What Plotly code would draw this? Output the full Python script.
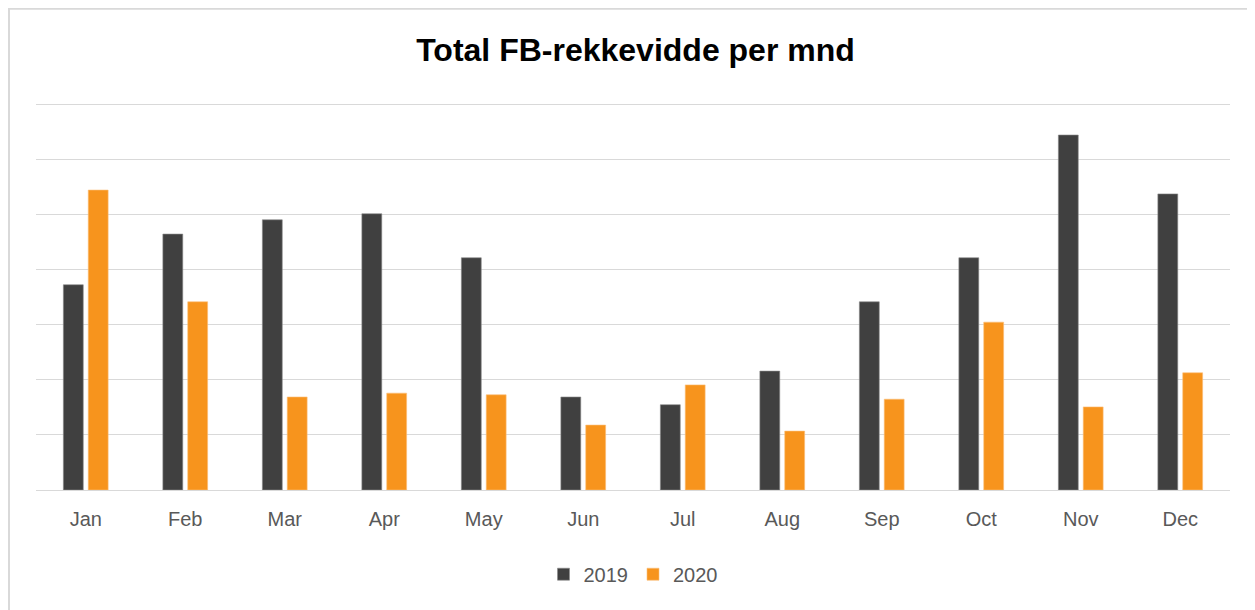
import plotly.graph_objects as go

months = ["Jan", "Feb", "Mar", "Apr", "May", "Jun", "Jul", "Aug", "Sep", "Oct", "Nov", "Dec"]
reach_2019 = [3.73, 4.65, 4.91, 5.02, 4.22, 1.69, 1.55, 2.16, 3.42, 4.22, 6.45, 5.38]
reach_2020 = [5.45, 3.42, 1.69, 1.76, 1.73, 1.18, 1.91, 1.07, 1.65, 3.05, 1.51, 2.13]

fig = go.Figure()

fig.add_trace(go.Bar(
    x=months, y=reach_2019, name="2019",
    marker=dict(color="#404040", line=dict(color="#8a8a8a", width=0.6)),
))
fig.add_trace(go.Bar(
    x=months, y=reach_2020, name="2020",
    marker=dict(color="#F7941D", line=dict(color="#FBC07A", width=0.6)),
))

# thin frame round the chart, like the exported picture
fig.add_shape(
    type="rect", xref="paper", yref="paper",
    x0=-0.0226, x1=1.2, y0=-0.5, y1=1.2405,
    line=dict(color="#D9D9D9", width=2), fillcolor="rgba(0,0,0,0)",
)

fig.update_layout(
    width=1255,
    height=610,
    title=dict(
        text="<b>Total FB-rekkevidde per mnd</b>",
        x=0.5, xanchor="center", y=0.931, yanchor="middle",
        font=dict(family="Liberation Sans, Arial, sans-serif", size=32, color="#000000"),
    ),
    barmode="group",
    bargap=0.5,
    bargroupgap=0.2,
    plot_bgcolor="white",
    paper_bgcolor="white",
    font=dict(family="Liberation Sans, Arial, sans-serif", size=20, color="#595959"),
    margin=dict(l=28, r=33, t=94, b=128),
    showlegend=True,
    legend=dict(
        orientation="h",
        x=0.5, xanchor="center",
        y=-0.217, yanchor="middle",
        font=dict(size=20, color="#595959"),
        traceorder="normal",
    ),
    xaxis=dict(
        showgrid=False,
        showline=False,
        ticks="",
        ticklabelstandoff=15,
        tickfont=dict(size=20, color="#595959"),
    ),
    yaxis=dict(
        range=[0, 7.05],
        dtick=1,
        showgrid=True,
        gridcolor="#D9D9D9",
        gridwidth=1,
        zeroline=True,
        zerolinecolor="#D9D9D9",
        zerolinewidth=1,
        showticklabels=False,
        ticks="",
    ),
)

fig.write_html("out.html")
